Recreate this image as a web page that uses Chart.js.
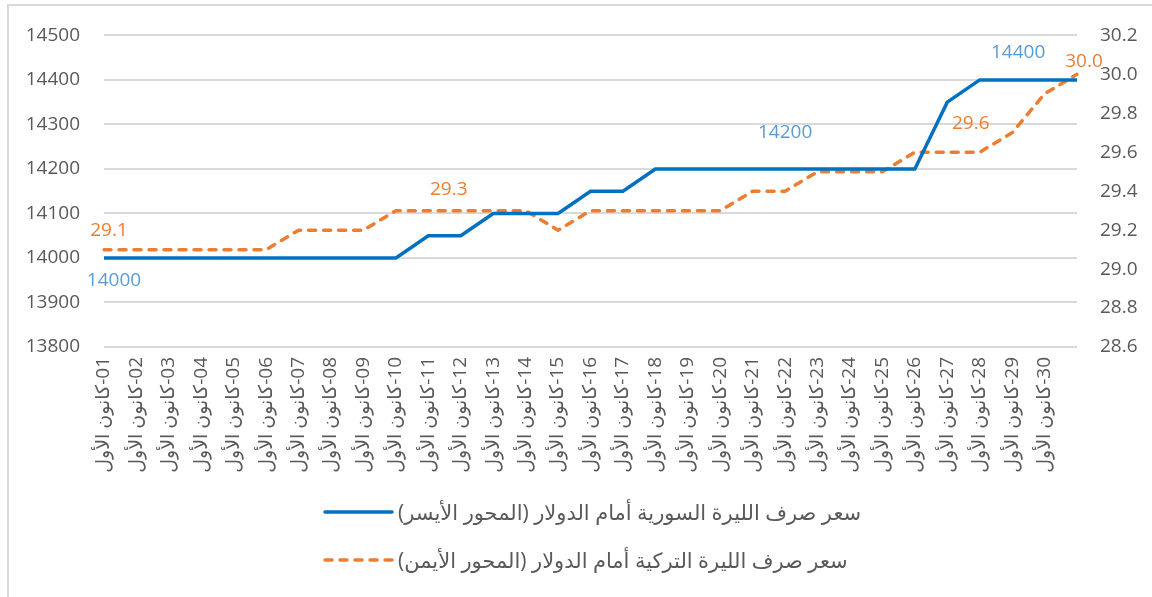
<!DOCTYPE html>
<html>
<head>
<meta charset="utf-8">
<script src="https://cdn.jsdelivr.net/npm/chart.js@4/dist/chart.umd.min.js"></script>
<style>
  html, body { margin: 0; padding: 0; background: #fff; overflow: hidden; }
  .frame { position: absolute; left: 7px; top: 4px; width: 1300px; height: 700px;
           border-left: 2px solid #d9d9d9; border-top: 2px solid #d9d9d9; }
  .wrap { position: absolute; left: 0; top: 0; width: 1152px; height: 597px; }
  .legend { position: absolute; left: 323px; top: 488px; font-family: 'Open Sans', 'DejaVu Sans', sans-serif;
            font-size: 21px; color: #595959; }
  .legend .row { display: flex; align-items: center; height: 48px; }
  .legend svg { margin-right: 4px; flex: none; }
</style>
</head>
<body>
<div class="frame"></div>
<div class="wrap"><canvas id="chart"></canvas></div>
<div class="legend" id="legend"></div>
<script>
const month = 'كانون الأول'
const days = ['01','02','03','04','05','06','07','08','09','10','11','12','13','14','15',
              '16','17','18','19','20','21','22','23','24','25','26','27','28','29','30','']

// سعر صرف الليرة السورية (left axis)
const syp = [14000,14000,14000,14000,14000,14000,14000,14000,14000,14000,
             14050,14050,14100,14100,14100,14150,14150,14200,14200,14200,
             14200,14200,14200,14200,14200,14200,14350,14400,14400,14400,14400]
// سعر صرف الليرة التركية (right axis)
const tryRate = [29.1,29.1,29.1,29.1,29.1,29.1,29.2,29.2,29.2,29.3,
                 29.3,29.3,29.3,29.3,29.2,29.3,29.3,29.3,29.3,29.3,
                 29.4,29.4,29.5,29.5,29.5,29.6,29.6,29.6,29.7,29.9,30.0]

const leftTicks = {min: 13800, max: 14500, step: 100}
const rightTicks = {min: 28.6, max: 30.2, step: 0.2}

const seriesNames = ['سعر صرف الليرة السورية أمام الدولار (المحور الأيسر)',
                     'سعر صرف الليرة التركية أمام الدولار (المحور الأيمن)']

// LRM keeps "-01" on the right of the arabic month name
const labels = days.map(d => d ? month + '\u200E-' + d : '')

const fontFamily = "'Open Sans', 'DejaVu Sans', sans-serif"
const grey = '#595959'

// which points get a value label, and where the text sits relative to the point
const pointLabels = [
    {ds: 0, i: 0, dx: 10, dy: 23, color: '#5B9BD5', fmt: v => v.toString()},
    {ds: 0, i: 21, dx: 0, dy: -36, color: '#5B9BD5', fmt: v => v.toString()},
    {ds: 0, i: 28, dx: 6, dy: -27, color: '#5B9BD5', fmt: v => v.toString()},
    {ds: 1, i: 0, dx: 5, dy: -19, color: '#ED7D31', fmt: v => v.toFixed(1)},
    {ds: 1, i: 11, dx: -12, dy: -21, color: '#ED7D31', fmt: v => v.toFixed(1)},
    {ds: 1, i: 27, dx: -9, dy: -29, color: '#ED7D31', fmt: v => v.toFixed(1)},
    {ds: 1, i: 30, dx: 7, dy: -13, color: '#ED7D31', fmt: v => v.toFixed(1)},
]

const valueLabels = {
    id: 'valueLabels',
    afterDatasetsDraw(chart) {
        const ctx = chart.ctx
        ctx.save()
        ctx.font = '19px ' + fontFamily
        ctx.textAlign = 'center'
        ctx.textBaseline = 'middle'
        pointLabels.forEach(l => {
            const el = chart.getDatasetMeta(l.ds).data[l.i]
            const v = chart.data.datasets[l.ds].data[l.i]
            ctx.fillStyle = l.color
            ctx.fillText(l.fmt(v), el.x + l.dx, el.y + l.dy)
        })
        ctx.restore()
    }
}

const chart = new Chart(document.getElementById('chart'), {
    type: 'line',
    data: {
        labels,
        datasets: [
            {
                label: seriesNames[0],
                data: syp,
                borderColor: '#0070C0',
                backgroundColor: '#0070C0',
                borderWidth: 3.5,
                pointRadius: 0,
                tension: 0,
                yAxisID: 'y'
            },
            {
                label: seriesNames[1],
                data: tryRate,
                borderColor: '#ED7D31',
                backgroundColor: '#ED7D31',
                borderWidth: 3.5,
                borderDash: [7, 8],
                borderCapStyle: 'round',
                pointRadius: 0,
                tension: 0,
                yAxisID: 'y1'
            }
        ]
    },
    options: {
        responsive: true,
        maintainAspectRatio: false,
        animation: false,
        layout: {padding: {top: 33, bottom: 122, left: 0, right: 0}},
        scales: {
            x: {
                grid: {display: false, drawTicks: false},
                border: {display: false},
                ticks: {
                    autoSkip: false,
                    minRotation: 90,
                    maxRotation: 90,
                    padding: 10,
                    color: grey,
                    font: {family: fontFamily, size: 19}
                },
                afterFit: s => { s.height = 128 }
            },
            y: {
                position: 'left',
                min: leftTicks.min,
                max: leftTicks.max,
                grid: {color: '#d9d9d9', lineWidth: 2, drawTicks: false},
                border: {display: false},
                ticks: {
                    stepSize: leftTicks.step,
                    padding: 24,
                    color: grey,
                    font: {family: fontFamily, size: 19},
                    callback: v => String(v)
                },
                afterFit: s => { s.width = 104 }
            },
            y1: {
                position: 'right',
                min: rightTicks.min,
                max: rightTicks.max,
                grid: {display: false, drawOnChartArea: false, drawTicks: false},
                border: {display: false},
                ticks: {
                    stepSize: rightTicks.step,
                    padding: 23,
                    color: grey,
                    font: {family: fontFamily, size: 19},
                    callback: v => Number(v).toFixed(1)
                },
                afterFit: s => { s.width = 75 }
            }
        },
        plugins: {
            legend: {display: false},
            tooltip: {enabled: false}
        }
    },
    plugins: [valueLabels]
})

// html legend, one series per row, built from the chart's datasets
const legendEl = document.getElementById('legend')
chart.data.datasets.forEach(ds => {
    const row = document.createElement('div')
    row.className = 'row'
    const dash = ds.borderDash ? ds.borderDash.join(' ') : 'none'
    row.innerHTML =
        '<svg width="71" height="8"><line x1="2" y1="4" x2="69" y2="4" stroke="' + ds.borderColor +
        '" stroke-width="' + ds.borderWidth + '" stroke-linecap="round" stroke-dasharray="' + dash + '"/></svg>'
    const txt = document.createElement('span')
    txt.dir = 'rtl'
    txt.textContent = ds.label
    row.appendChild(txt)
    legendEl.appendChild(row)
})
</script>
</body>
</html>
